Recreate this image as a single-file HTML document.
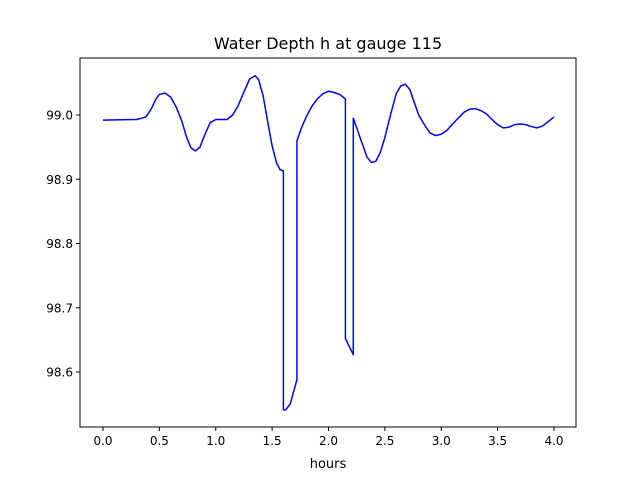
<!DOCTYPE html>
<html><head><meta charset="utf-8"><style>
body{margin:0;background:#fff}
svg{display:block;font-family:"DejaVu Sans","Liberation Sans",sans-serif}
</style></head><body>
<svg id="chart" width="640" height="480" viewBox="0 0 640 480" xmlns="http://www.w3.org/2000/svg">
<rect width="640" height="480" fill="#fff"/>
<text x="328" y="49" font-size="16" text-anchor="middle">Water Depth h at gauge 115</text>
<g id="axes"></g>
<text x="328" y="468" font-size="13" text-anchor="middle">hours</text>
</svg>
<script>
const hours=[0.0,0.3,0.38,0.43,0.47,0.5,0.55,0.6,0.65,0.7,0.74,0.78,0.82,0.86,0.9,0.95,1.0,1.05,1.1,1.15,1.2,1.25,1.3,1.35,1.38,1.42,1.46,1.5,1.54,1.57,1.6,1.6,1.62,1.66,1.72,1.72,1.76,1.8,1.85,1.9,1.95,2.0,2.05,2.1,2.15,2.15,2.22,2.22,2.26,2.3,2.34,2.38,2.42,2.46,2.5,2.55,2.6,2.64,2.68,2.72,2.76,2.8,2.85,2.9,2.95,3.0,3.05,3.1,3.15,3.2,3.25,3.3,3.35,3.4,3.45,3.5,3.55,3.6,3.65,3.7,3.75,3.8,3.85,3.9,3.95,4.0];
const depth=[98.992,98.993,98.997,99.01,99.025,99.032,99.034,99.028,99.012,98.99,98.966,98.949,98.944,98.95,98.968,98.988,98.993,98.993,98.993,99.0,99.015,99.036,99.056,99.061,99.055,99.03,98.99,98.952,98.925,98.915,98.913,98.541,98.541,98.55,98.588,98.96,98.98,98.996,99.013,99.025,99.033,99.037,99.035,99.032,99.025,98.652,98.627,98.995,98.975,98.955,98.935,98.926,98.928,98.942,98.965,99.0,99.033,99.045,99.048,99.04,99.02,99.0,98.985,98.972,98.968,98.97,98.976,98.986,98.995,99.004,99.009,99.01,99.007,99.002,98.993,98.985,98.98,98.981,98.985,98.986,98.985,98.982,98.98,98.983,98.99,98.997];
const xTicks=[0.0,0.5,1.0,1.5,2.0,2.5,3.0,3.5,4.0];
const yTicks=[98.6,98.7,98.8,98.9,99.0];
const L=80,R=576,T=58,B=427;
const xs=v=>103+(v-0)*112.75;
const ys=v=>115+(99.0-v)*642.5;
const NS="http://www.w3.org/2000/svg";
const g=document.getElementById('axes');
function mk(t,a){const e=document.createElementNS(NS,t);for(const k in a)e.setAttribute(k,a[k]);g.appendChild(e);return e;}
xTicks.forEach(v=>{
 const l=mk('line',{x1:xs(v),x2:xs(v),y1:B,y2:B+4,stroke:'#000'});
 
 
 const t=mk('text',{x:xs(v),y:B+18,'font-size':12,'text-anchor':'middle'});
 t.textContent=v.toFixed(1);
 
 
});
yTicks.forEach(v=>{
 const l=mk('line',{x1:L-4,x2:L,y1:ys(v),y2:ys(v),stroke:'#000'});
 
 
 const t=mk('text',{x:L-7,y:ys(v)+4.5,'font-size':12,'text-anchor':'end'});
 t.textContent=v.toFixed(1);
 
 
});
const p=mk('polyline',{points:hours.map((h,i)=>xs(h)+','+ys(depth[i])).join(' '),fill:'none',stroke:'#0000ff','stroke-width':1.5,'stroke-linejoin':'round'});


const f=mk('rect',{x:L,y:T,width:R-L,height:B-T,fill:'none',stroke:'#000','stroke-width':1});


</script>
</body></html>
